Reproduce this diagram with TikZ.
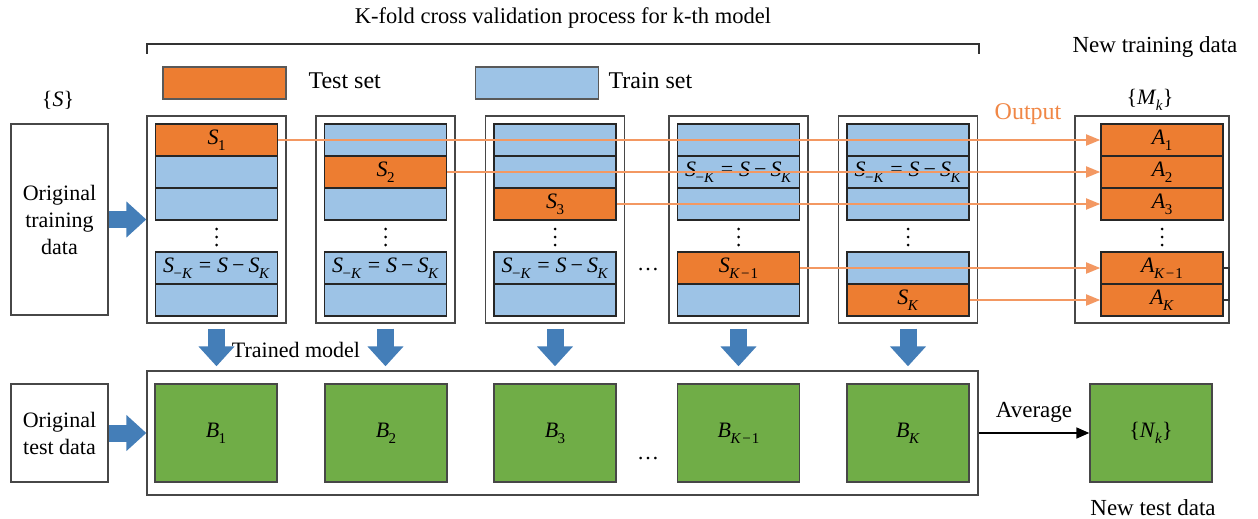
\documentclass[tikz,border=0pt]{standalone}
\usepackage{fontspec}
\setmainfont{Liberation Serif}
\usetikzlibrary{arrows.meta}

\definecolor{cvOrange}{RGB}{237,125,49}
\definecolor{cvBlue}{RGB}{157,195,230}
\definecolor{cvGreen}{RGB}{112,173,71}
\definecolor{cvArrow}{RGB}{68,126,184}
\definecolor{cvLine}{RGB}{243,152,98}
\definecolor{cvText}{RGB}{240,135,70}

% italic variable with a lowered subscript, set in the text font
\newcommand\mvar[2]{\textit{#1}\kern-0.5pt\raisebox{-0.28em}{\fontsize{15}{15}\selectfont#2}}
\newcommand\rest{\mvar{S}{−\textit{K}}\hspace{6pt}=\hspace{6pt}\textit{S}\hspace{4pt}−\hspace{4pt}\mvar{S}{\textit{K}}}

\begin{document}
\begin{tikzpicture}[x=1pt,y=-1pt,
  font=\rmfamily\fontsize{22}{27}\selectfont,
  colbox/.style={draw=black!72, line width=1.4pt, minimum width=139pt,
    minimum height=207pt, inner sep=0pt},
  strip/.style={draw=black!85, line width=1.6pt, minimum width=122pt,
    minimum height=32pt, inner sep=0pt, font=\rmfamily\fontsize{22}{26}\selectfont},
  test/.style={strip, fill=cvOrange},
  train/.style={strip, fill=cvBlue},
  databox/.style={draw=black!72, line width=1.4pt, fill=white, align=center,
    inner sep=0pt, minimum width=97pt},
  modelbox/.style={draw=black!72, line width=1.4pt, fill=cvGreen,
    minimum width=122pt, minimum height=98pt, inner sep=0pt},
  legendbox/.style={draw=black!65, line width=1.2pt, minimum width=123pt,
    minimum height=32pt, inner sep=0pt},
  fatarrow/.style={draw=cvArrow, line width=17pt,
    -{Triangle[length=20pt,width=35pt]}},
  outarrow/.style={draw=cvLine, line width=1.8pt,
    -{Triangle[length=14pt,width=11pt]}},
  vdot/.style={fill=black}
]
\useasboundingbox (0,0) rectangle (1258,519);

% title bracket
\node (title) at (563,18) {\fontsize{22.5}{27}\selectfont K-fold cross validation process for k-th model};
\draw[black!80, line width=1.4pt] (147,54) -- (147,44) -- (979,44) -- (979,54);

% legend
\node[legendbox, fill=cvOrange] (legT) at (224.5,83) {};
\node[anchor=west] (legTt) at (305,81) {\fontsize{24}{28}\selectfont Test set};
\node[legendbox, fill=cvBlue] (legB) at (537,83) {};
\node[anchor=west] (legBt) at (605,81) {\fontsize{24}{28}\selectfont Train set};

% original data
\node (sset) at (58,100) {\{\textit{S}\}};
\node[databox, minimum height=191pt] (otr) at (59.5,219.5) {Original\\training\\data};
\node[databox, minimum height=98pt] (ote) at (59.5,433) {Original\\test data};

% column 1
\node[colbox] (c1) at (216.5,219.5) {};
\node[test]  (c1a) at (216.5,140) {\mvar{S}{1}};
\node[train] (c1b) at (216.5,172) {};
\node[train] (c1c) at (216.5,204) {};
\node[train] (c1d) at (216.5,268) {\rest};
\node[train] (c1e) at (216.5,300) {};

% column 2
\node[colbox] (c2) at (385.5,219.5) {};
\node[train] (c2a) at (385.5,140) {};
\node[test]  (c2b) at (385.5,172) {\mvar{S}{2}};
\node[train] (c2c) at (385.5,204) {};
\node[train] (c2d) at (385.5,268) {\rest};
\node[train] (c2e) at (385.5,300) {};

% column 3
\node[colbox] (c3) at (555,219.5) {};
\node[train] (c3a) at (555,140) {};
\node[train] (c3b) at (555,172) {};
\node[test]  (c3c) at (555,204) {\mvar{S}{3}};
\node[train] (c3d) at (555,268) {\rest};
\node[train] (c3e) at (555,300) {};

% column K-1
\node[colbox] (c4) at (738.5,219.5) {};
\node[train] (c4a) at (738.5,140) {};
\node[train] (c4b) at (738.5,172) {\rest};
\node[train] (c4c) at (738.5,204) {};
\node[test]  (c4d) at (738.5,268) {\mvar{S}{\textit{K}\kern1pt−\kern1pt1}};
\node[train] (c4e) at (738.5,300) {};

% column K
\node[colbox] (c5) at (908,219.5) {};
\node[train] (c5a) at (908,140) {};
\node[train] (c5b) at (908,172) {\rest};
\node[train] (c5c) at (908,204) {};
\node[train] (c5d) at (908,268) {};
\node[test]  (c5e) at (908,300) {\mvar{S}{\textit{K}}};

% new training data
\node (newtr) at (1155,47) {\fontsize{23}{27}\selectfont New training data};
\node (mset) at (1150,100) {\{\mvar{M}{\textit{k}}\}};
\node[text=cvText] (outlbl) at (1028,114) {\fontsize{24}{28}\selectfont Output};
\node[colbox, minimum width=154pt] (out) at (1152,219.5) {};
\node[test] (a1) at (1162,140) {\mvar{A}{1}};
\node[test] (a2) at (1162,172) {\mvar{A}{2}};
\node[test] (a3) at (1162,204) {\mvar{A}{3}};
\node[test] (a4) at (1162,268) {\mvar{A}{\textit{K}\kern1pt−\kern1pt1}};
\node[test] (a5) at (1162,300) {\mvar{A}{\textit{K}}};
\draw[black!80, line width=1.4pt] (a4.east) -- ++(5,0) |- (a5.east);

% vertical ellipses
\foreach \x in {216.5,385.5,555,738.5,908,1162}
  \foreach \y in {229,237,245}
    \fill[vdot] (\x,\y) circle (1.5pt);

% horizontal ellipses
\node[anchor=base] (gapA) at (648,270) {\dots};
\node[anchor=base] (gapB) at (648,459) {\dots};

% outputs of each fold
\draw[outarrow] (c1a.east) -- (a1.west);
\draw[outarrow] (c2b.east) -- (a2.west);
\draw[outarrow] (c3c.east) -- (a3.west);
\draw[outarrow] (c4d.east) -- (a4.west);
\draw[outarrow] (c5e.east) -- (a5.west);

% trained models
\node[draw=black!72, line width=1.4pt, minimum width=831pt, minimum height=124pt,
  inner sep=0pt] (bot) at (562.5,433) {};
\node[modelbox] (b1) at (216,433) {\mvar{B}{1}};
\node[modelbox] (b2) at (386,433) {\mvar{B}{2}};
\node[modelbox] (b3) at (555,433) {\mvar{B}{3}};
\node[modelbox] (b4) at (738.5,433) {\mvar{B}{\textit{K}\kern1pt−\kern1pt1}};
\node[modelbox] (b5) at (908,433) {\mvar{B}{\textit{K}}};
\node (trained) at (296,350) {Trained model};

% new test data
\node[modelbox] (nk) at (1151,433) {\{\mvar{N}{\textit{k}}\}};
\node (newte) at (1153,508) {\fontsize{23}{27}\selectfont New test data};
\draw[black, line width=1.6pt, -{Triangle[length=13pt,width=11pt]}] (bot.east) -- (nk.west)
  node[midway, above=6pt] (avg) {\fontsize{23}{27}\selectfont Average};

% fat arrows
\draw[fatarrow] (otr.east) -- (otr.east -| c1.west);
\draw[fatarrow] (ote.east) -- (ote.east -| bot.west);
\foreach \c in {c1,c2,c3,c4,c5}
  \draw[fatarrow] ([yshift=-5pt]\c.south) -- ([yshift=4pt]\c.south |- bot.north);
\end{tikzpicture}
\end{document}
